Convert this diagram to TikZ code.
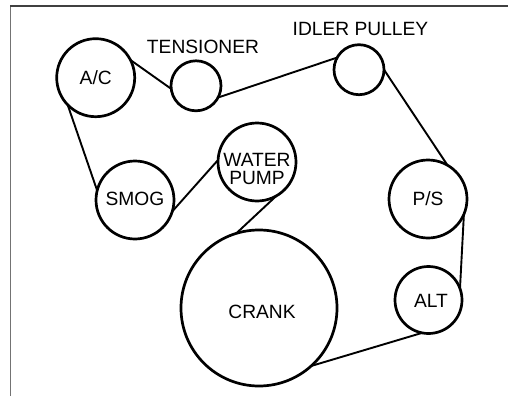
\documentclass[tikz,border=0pt]{standalone}
\usepackage{fontspec}
\setmainfont{Liberation Sans}
\tikzset{
  pulley/.style={circle,draw=black,line width=2.7pt,inner sep=0pt,outer sep=0pt,minimum size=#1},
  belt/.style={draw=black,line width=1.9pt},
  lab/.style={inner sep=0pt,outer sep=0pt,align=center,font=\fontsize{19.2}{18.5}\selectfont,text=black}
}
\begin{document}
\begin{tikzpicture}[x=1pt,y=-1pt]
\useasboundingbox[fill=white] (0,0) rectangle (508,396);
\coordinate (fa) at (10,396);
\coordinate (fb) at (10,6);
\coordinate (fc) at (508,6);
\draw[line width=0.9pt,black!55] (fa) -- (fb);
\draw[line width=1.3pt,black!75] (fb) -- (fc);
\node[pulley=78pt] (ac) at (95.7,77.7) {};
\node[pulley=50pt] (ten) at (196,85.8) {};
\node[pulley=50pt] (idl) at (359,69.7) {};
\node[pulley=78pt] (wat) at (257,162) {};
\node[pulley=78pt] (smog) at (135,200) {};
\node[pulley=78pt] (ps) at (428,199) {};
\node[pulley=67pt] (alt) at (428.5,300) {};
\node[pulley=156pt] (crank) at (259,308) {};
\draw[belt] (ac.27) -- (ten.187);
\draw[belt] (ten.-28) -- (idl.151);
\draw[belt] (idl.0) -- (ps.60);
\draw[belt] (ps.-23) -- (alt.20);
\draw[belt] (alt.259) -- (crank.-48);
\draw[belt] (crank.107) -- (wat.-60);
\draw[belt] (wat.177) -- (smog.-17);
\draw[belt] (smog.166) -- (ac.224);
\node[lab] (t1) at (203,47) {TENSIONER};
\node[lab] (t2) at (360.5,28.5) {IDLER PULLEY};
\node[lab] (t3) at (95.7,78) {A/C};
\node[lab] (t4) at (135,198.5) {SMOG};
\node[lab] (t5) at (257,169) {WATER\\PUMP};
\node[lab] (t6) at (428,198.5) {P/S};
\node[lab] (t7) at (431,301) {ALT};
\node[lab] (t8) at (262,312) {CRANK};
\end{tikzpicture}
\end{document}
